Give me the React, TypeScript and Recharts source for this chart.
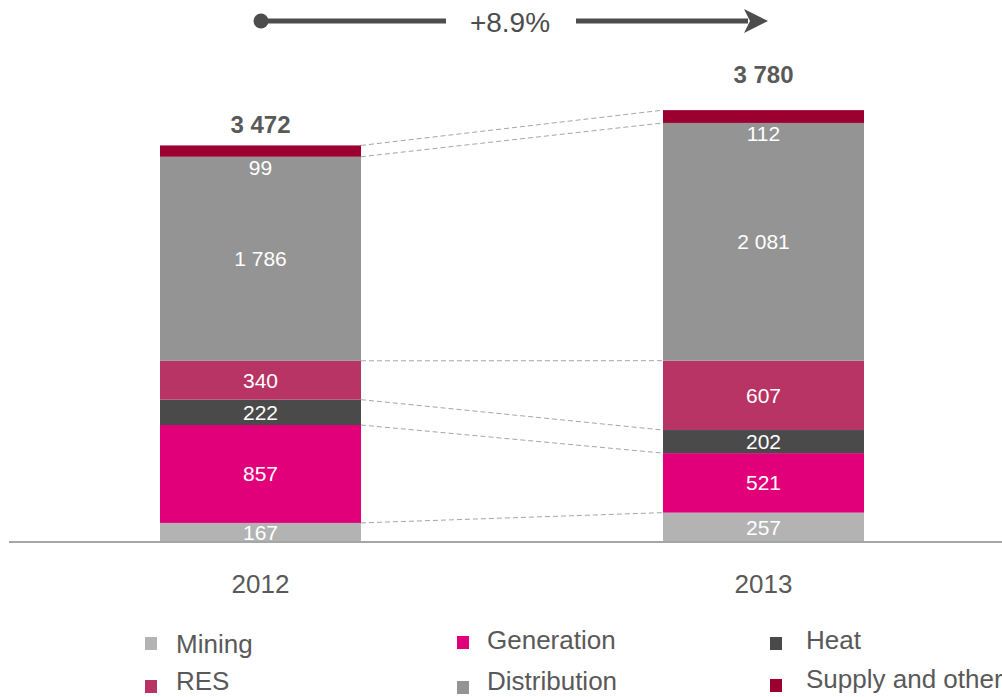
import React from 'react';
import { BarChart, Bar, XAxis, YAxis, LabelList } from 'recharts';

// Revenue by segment, 2012 vs 2013
const YEARS = ['2012', '2013'];
const SERIES = ['Mining', 'Generation', 'Heat', 'RES', 'Distribution', 'Supply and other'];
const COLORS = ['#b3b3b3', '#e2007a', '#4a4a4a', '#b83464', '#949494', '#9b0031'];
const MINING = [167, 257];
const GENERATION = [857, 521];
const HEAT = [222, 202];
const RES = [340, 607];
const DISTRIBUTION = [1786, 2081];
const SUPPLY = [99, 112];
const TOTALS = [3472, 3780];
const GROWTH_LABEL = '+8.9%';

const VALUES = [MINING, GENERATION, HEAT, RES, DISTRIBUTION, SUPPLY];

const data = YEARS.map((year, i) => {
  const row: Record<string, any> = { year };
  SERIES.forEach((s, k) => {
    row[s] = VALUES[k][i];
  });
  return row;
});

// cumulative top of each stack segment, per year
const cumulative = YEARS.map((_, i) => {
  let sum = 0;
  return VALUES.map((v) => (sum += v[i]));
});

const CHART_W = 1020;
const CHART_H = 697;
const MARGIN = { top: 85, right: 5, bottom: 115, left: 9 };
const BAND = (CHART_W - MARGIN.left - MARGIN.right) / YEARS.length;

const TEXT = '#595959';
const FONT = '"Liberation Sans", Arial, sans-serif';

const fmt = (v: number) => String(v).replace(/\B(?=(\d{3})+(?!\d))/g, ' ');

// bar segment + dashed connector to the same boundary in the next year
const makeShape = (k: number) => (props: any) => {
  const { x, y, width, height, index } = props;
  let connector = null;
  if (index === 0) {
    const ppu = height / VALUES[k][0];
    const base = y + cumulative[0][k] * ppu;
    const yNext = base - cumulative[1][k] * ppu;
    connector = (
      <line
        x1={x + width}
        y1={y}
        x2={x + BAND}
        y2={yNext}
        stroke="#a6a6a6"
        strokeWidth={1}
        strokeDasharray="5 3"
      />
    );
  }
  return (
    <g>
      <rect x={x} y={y} width={width} height={height} fill={COLORS[k]} />
      {connector}
    </g>
  );
};

const makeValueLabel = (k: number) => (props: any) => {
  const { x, y, width, height, value } = props;
  const isSupply = k === SERIES.length - 1;
  const cy = isSupply ? y + height + 11 : y + height / 2;
  return (
    <text
      x={x + width / 2}
      y={cy}
      textAnchor="middle"
      dominantBaseline="central"
      fill="#ffffff"
      fontSize={21}
      fontFamily={FONT}
    >
      {fmt(value)}
    </text>
  );
};

const TotalLabel = (props: any) => {
  const { x, y, width, index } = props;
  const gap = index === 0 ? 21 : 36;
  return (
    <text
      x={x + width / 2}
      y={y - gap}
      textAnchor="middle"
      dominantBaseline="central"
      fill={TEXT}
      fontSize={24}
      fontWeight="bold"
      fontFamily={FONT}
    >
      {fmt(TOTALS[index])}
    </text>
  );
};

const YearTick = (props: any) => {
  const { x, y, payload } = props;
  return (
    <text x={x} y={y + 43} textAnchor="middle" fill={TEXT} fontSize={26} fontFamily={FONT}>
      {payload.value}
    </text>
  );
};

const LEGEND_POS = [
  { mx: 145, tx: 176, cy: 644, my: 643 },
  { mx: 457, tx: 487, cy: 640, my: 642 },
  { mx: 770, tx: 806, cy: 640, my: 643 },
  { mx: 145, tx: 176, cy: 681, my: 686 },
  { mx: 457, tx: 487, cy: 681, my: 687 },
  { mx: 770, tx: 806, cy: 679, my: 685 },
];

const Legend = () => (
  <>
    {SERIES.map((s, k) => (
      <React.Fragment key={s}>
        <div
          style={{
            position: 'absolute',
            left: LEGEND_POS[k].mx,
            top: LEGEND_POS[k].my - 6,
            width: 12,
            height: 13,
            background: COLORS[k],
          }}
        />
        <div
          style={{
            position: 'absolute',
            left: LEGEND_POS[k].tx,
            top: LEGEND_POS[k].cy - 11,
            height: 22,
            lineHeight: '22px',
            fontSize: 26,
            color: TEXT,
            whiteSpace: 'nowrap',
          }}
        >
          {s}
        </div>
      </React.Fragment>
    ))}
  </>
);

const GrowthArrow = () => (
  <svg width={1002} height={50} style={{ position: 'absolute', left: 0, top: 0 }}>
    <circle cx={261} cy={21} r={7.5} fill="#4d4d4d" />
    <line x1={261} y1={21} x2={446} y2={21} stroke="#4d4d4d" strokeWidth={5} />
    <line x1={576} y1={21} x2={748} y2={21} stroke="#4d4d4d" strokeWidth={5} />
    <polygon points="744,9 768,21 744,33 750,21" fill="#4d4d4d" />
    <text
      x={510}
      y={22}
      textAnchor="middle"
      dominantBaseline="central"
      fill="#4d4d4d"
      fontSize={28}
      fontFamily={FONT}
    >
      {GROWTH_LABEL}
    </text>
  </svg>
);

export default function App() {
  return (
    <div
      style={{
        position: 'absolute',
        left: 0,
        top: 0,
        width: 1002,
        height: 697,
        overflow: 'hidden',
        background: '#ffffff',
        fontFamily: FONT,
      }}
    >
      <BarChart width={CHART_W} height={CHART_H} data={data} margin={MARGIN}>
        <XAxis
          dataKey="year"
          height={40}
          axisLine={{ stroke: '#a6a6a6', strokeWidth: 2 }}
          tickLine={false}
          tick={<YearTick />}
          interval={0}
        />
        <YAxis hide domain={[0, 4000]} />
        {SERIES.map((s, k) => (
          <Bar
            key={s}
            dataKey={s}
            stackId="a"
            barSize={201}
            fill={COLORS[k]}
            shape={makeShape(k)}
            isAnimationActive={false}
          >
            <LabelList dataKey={s} content={makeValueLabel(k)} />
            {k === SERIES.length - 1 && <LabelList dataKey={s} content={<TotalLabel />} />}
          </Bar>
        ))}
      </BarChart>
      <GrowthArrow />
      <Legend />
    </div>
  );
}
